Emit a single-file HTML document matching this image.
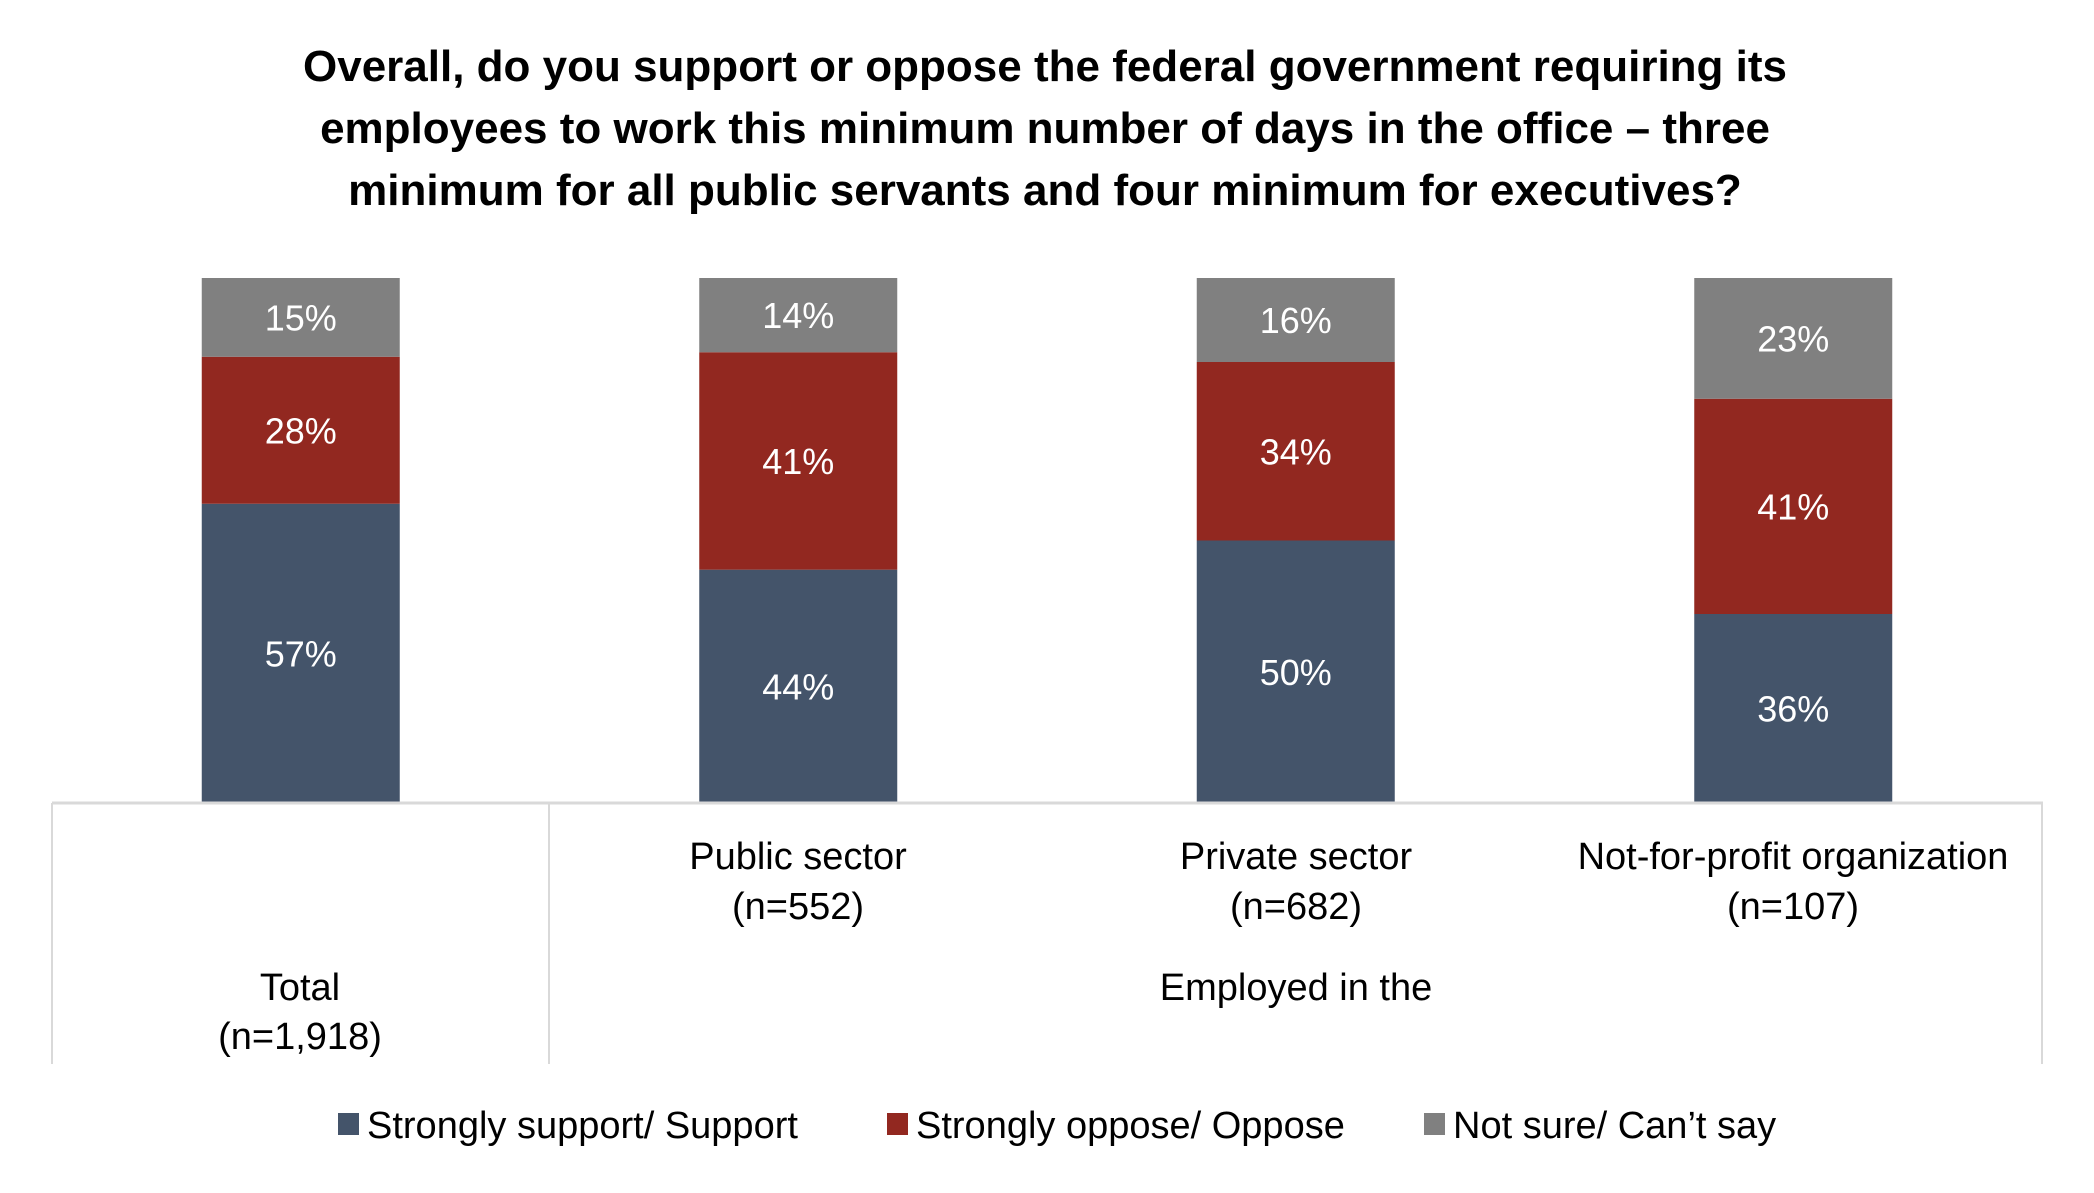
<!DOCTYPE html>
<html><head><meta charset="utf-8"><style>
html,body{margin:0;padding:0;background:#fff;}
svg{display:block;font-family:"Liberation Sans",sans-serif;}
</style></head><body>
<svg id="chart" width="2094" height="1193" viewBox="0 0 2094 1193" xmlns="http://www.w3.org/2000/svg">
<g font-weight="bold" font-size="44" fill="#000" text-anchor="middle">
<text x="1045" y="81">Overall, do you support or oppose the federal government requiring its</text>
<text x="1045" y="143">employees to work this minimum number of days in the office – three</text>
<text x="1045" y="205">minimum for all public servants and four minimum for executives?</text>
</g>
<g id="bars"></g>
<g stroke="#d9d9d9" fill="none">
<line x1="52" y1="803" x2="2043" y2="803" stroke-width="3"/>
<line x1="52" y1="803" x2="52" y2="1064" stroke-width="2"/>
<line x1="549" y1="803" x2="549" y2="1064" stroke-width="2"/>
<line x1="2042" y1="803" x2="2042" y2="1064" stroke-width="2"/>
</g>
<g font-size="38" fill="#000" text-anchor="middle">
<text x="798" y="869">Public sector</text>
<text x="798" y="919">(n=552)</text>
<text x="1296" y="869">Private sector</text>
<text x="1296" y="919">(n=682)</text>
<text x="1793" y="869">Not-for-profit organization</text>
<text x="1793" y="919">(n=107)</text>
<text x="300" y="1000">Total</text>
<text x="300" y="1049">(n=1,918)</text>
<text x="1296" y="1000">Employed in the</text>
</g>
<g font-size="38" fill="#000">
<rect x="338" y="1113" width="21" height="22" fill="#44546a"/>
<text x="367" y="1138">Strongly support/ Support</text>
<rect x="887" y="1113" width="21" height="22" fill="#922820"/>
<text x="916" y="1138">Strongly oppose/ Oppose</text>
<rect x="1424" y="1113" width="21" height="22" fill="#808080"/>
<text x="1453" y="1138">Not sure/ Can’t say</text>
</g>
</svg>
<script>
const categories = ["Total", "Public sector", "Private sector", "Not-for-profit organization"];
const supportValues = [57, 44, 50, 36];
const opposeValues = [28, 41, 34, 41];
const notSureValues = [15, 14, 16, 23];
const seriesColors = ["#44546a", "#922820", "#808080"];
const seriesKeys = ["support", "oppose", "notsure"];

const plotTop = 278, plotBottom = 803, plotLeft = 52, plotRight = 2042;
const bandW = (plotRight - plotLeft) / categories.length;
const barW = 198;
function xCenter(i){ return plotLeft + bandW * (i + 0.5); }
function yScale(frac){ return plotBottom - frac * (plotBottom - plotTop); }

const NS = "http://www.w3.org/2000/svg";
const g = document.getElementById("bars");
const series = [supportValues, opposeValues, notSureValues];
categories.forEach(function(cat, i){
  const total = supportValues[i] + opposeValues[i] + notSureValues[i];
  let cum = 0;
  series.forEach(function(arr, s){
    const v = arr[i];
    const y0 = yScale(cum / total);
    const y1 = yScale((cum + v) / total);
    cum += v;
    const r = document.createElementNS(NS, "rect");
    r.setAttribute("x", xCenter(i) - barW / 2);
    r.setAttribute("y", y1);
    r.setAttribute("width", barW);
    r.setAttribute("height", y0 - y1);
    r.setAttribute("fill", seriesColors[s]);
    
    
    g.appendChild(r);
    const t = document.createElementNS(NS, "text");
    t.setAttribute("x", xCenter(i));
    t.setAttribute("y", (y0 + y1) / 2 + 13);
    t.setAttribute("text-anchor", "middle");
    t.setAttribute("font-size", "36");
    t.setAttribute("fill", "#fff");
    t.textContent = v + "%";
    
    
    g.appendChild(t);
  });
});
</script>
</body></html>
